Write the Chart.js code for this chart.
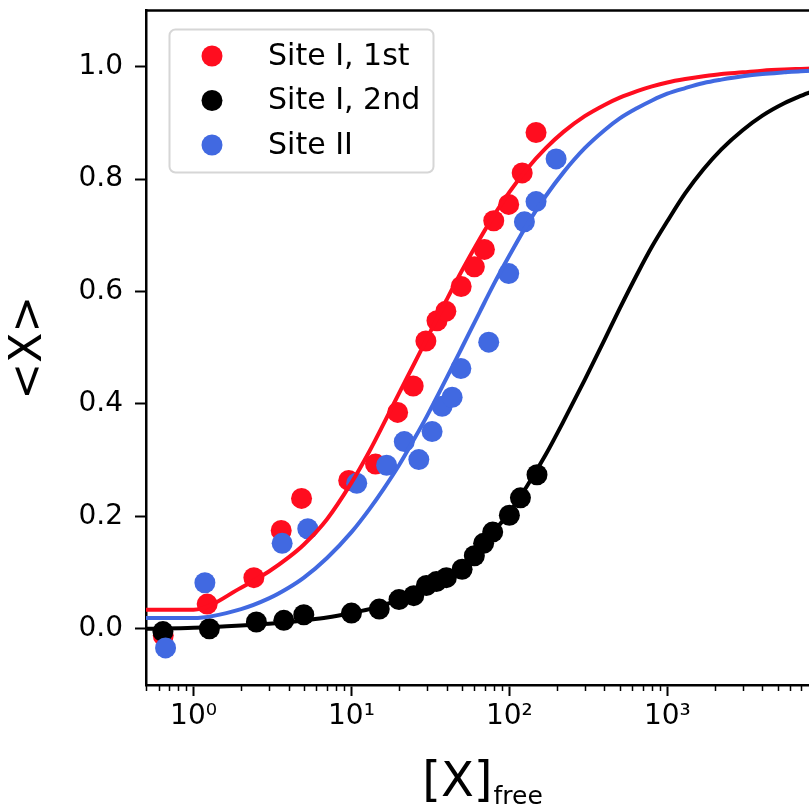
<!DOCTYPE html>
<html>
<head>
<meta charset="utf-8">
<script src="https://cdn.jsdelivr.net/npm/chart.js@4.4.1/dist/chart.umd.min.js"></script>
<style>
  html, body { margin: 0; padding: 0; background: #fff; overflow: hidden; }
</style>
</head>
<body>
<canvas id="bindingChart" width="830" height="810"></canvas>
<script>
// measured occupancy, site I first binding
const siteI1stX = [0.643, 1.22, 2.41, 3.59, 4.83, 9.61, 14.2, 19.6, 24.6, 29.6, 34.8, 39.6, 49.5, 60.0, 69.5, 79.6, 99, 120.5, 147.5];
const siteI1stY = [-0.012, 0.044, 0.091, 0.175, 0.232, 0.264, 0.293, 0.385, 0.432, 0.512, 0.548, 0.565, 0.609, 0.644, 0.675, 0.726, 0.755, 0.811, 0.883];

// site I second binding
const siteI2ndX = [0.64, 1.26, 2.50, 3.73, 4.99, 10.0, 15.0, 20.0, 24.8, 29.8, 34.5, 39.9, 50.2, 60.0, 68.7, 78.4, 100, 117.5, 149.6];
const siteI2ndY = [-0.005, 0.0, 0.012, 0.015, 0.025, 0.028, 0.035, 0.052, 0.059, 0.077, 0.084, 0.091, 0.106, 0.130, 0.152, 0.172, 0.202, 0.233, 0.274];

// site II
const siteIIX = [0.665, 1.18, 3.64, 5.29, 10.8, 16.7, 21.6, 26.7, 32.4, 37.5, 43.4, 49.3, 74.0, 99, 124.5, 147.5, 197.6];
const siteIIY = [-0.034, 0.082, 0.152, 0.178, 0.259, 0.291, 0.333, 0.301, 0.351, 0.396, 0.412, 0.463, 0.510, 0.632, 0.724, 0.760, 0.836];

// fitted curves
const fitX = [0.5, 1, 2, 3, 4, 5, 7, 10, 13, 16, 20, 25, 30, 40, 50, 65, 80, 100, 130, 170, 220, 300, 400, 500, 650, 800, 1000, 1300, 1700, 2200, 3000, 4000, 5500, 7000, 9000];
const fitI1st = [0.034, 0.034, 0.073, 0.102, 0.127, 0.150, 0.195, 0.260, 0.316, 0.365, 0.419, 0.472, 0.516, 0.585, 0.637, 0.694, 0.736, 0.777, 0.819, 0.855, 0.884, 0.912, 0.932, 0.945, 0.957, 0.965, 0.972, 0.978, 0.983, 0.987, 0.990, 0.993, 0.995, 0.996, 0.997];
const fitI2nd = [0.0, 0.002, 0.006, 0.009, 0.012, 0.015, 0.020, 0.028, 0.035, 0.042, 0.052, 0.063, 0.075, 0.095, 0.114, 0.145, 0.174, 0.207, 0.255, 0.310, 0.369, 0.443, 0.514, 0.570, 0.633, 0.680, 0.725, 0.775, 0.818, 0.853, 0.887, 0.913, 0.935, 0.948, 0.960];
const fitII = [0.019, 0.019, 0.035, 0.054, 0.073, 0.091, 0.126, 0.172, 0.213, 0.249, 0.291, 0.338, 0.378, 0.446, 0.500, 0.564, 0.614, 0.664, 0.720, 0.770, 0.812, 0.855, 0.887, 0.908, 0.927, 0.940, 0.952, 0.962, 0.971, 0.977, 0.983, 0.987, 0.990, 0.992, 0.993];

const xTickValues = [1, 10, 100, 1000];
const yTickValues = [0.0, 0.2, 0.4, 0.6, 0.8, 1.0];

const RED = '#ff0d1f';
const BLUE = '#4169e1';
const BLACK = '#000000';
const FONT = 'DejaVu Sans';

const toPoints = (xs, ys) => xs.map((x, i) => ({ x: x, y: ys[i] }));

const sups = { '0': '\u2070', '1': '\u00b9', '2': '\u00b2', '3': '\u00b3', '4': '\u2074' };

function scatterSet(label, xs, ys, color, order) {
  return {
    type: 'scatter',
    label: label,
    data: toPoints(xs, ys),
    backgroundColor: color,
    borderColor: color,
    borderWidth: 0,
    pointRadius: 10.5,
    pointHoverRadius: 10.5,
    order: order
  };
}

function fitSet(ys, color, order) {
  return {
    type: 'line',
    label: '',
    data: toPoints(fitX, ys),
    borderColor: color,
    borderWidth: 4,
    pointRadius: 0,
    fill: false,
    cubicInterpolationMode: 'monotone',
    order: order
  };
}

// minor ticks, top spine, axis titles and the legend box
const decorations = {
  id: 'decorations',
  afterDraw(chart) {
    const c = chart.ctx;
    const area = chart.chartArea;
    const xs = chart.scales.x;

    // top spine
    c.save();
    c.strokeStyle = '#000';
    c.lineWidth = 2.5;
    c.beginPath();
    c.moveTo(area.left - 1, area.top);
    c.lineTo(area.right, area.top);
    c.stroke();
    c.restore();

    // minor log ticks
    c.save();
    c.strokeStyle = '#000';
    c.lineWidth = 1.5;
    for (let d = -1; d <= 3; d++) {
      for (let m = 2; m <= 9; m++) {
        const v = m * Math.pow(10, d);
        if (v < xs.min || v > xs.max) continue;
        const px = Math.round(xs.getPixelForValue(v)) + 0.5;
        c.beginPath();
        c.moveTo(px, area.bottom);
        c.lineTo(px, area.bottom + 6);
        c.stroke();
      }
    }
    c.restore();

    // y title
    c.save();
    c.fillStyle = '#000';
    c.font = '44px "' + FONT + '"';
    c.textAlign = 'center';
    c.textBaseline = 'middle';
    c.translate(30, (area.top + area.bottom) / 2);
    c.rotate(-Math.PI / 2);
    c.fillText('<X>', 0, 0);
    c.restore();

    // x title with subscript
    c.save();
    c.fillStyle = '#000';
    c.textBaseline = 'alphabetic';
    c.textAlign = 'left';
    c.font = '48px "' + FONT + '"';
    const main = '[X]';
    const w1 = c.measureText(main).width;
    c.font = '25px "' + FONT + '"';
    const sub = 'free';
    const w2 = c.measureText(sub).width;
    const x0 = (area.left + area.right) / 2 - (w1 + w2) / 2;
    c.font = '48px "' + FONT + '"';
    c.fillText(main, x0, 796);
    c.font = '25px "' + FONT + '"';
    c.fillText(sub, x0 + w1 + 1, 804);
    c.restore();
  },
  afterDatasetsDraw(chart) {
    const c = chart.ctx;
    const entries = chart.data.datasets.filter(ds => ds.type === 'scatter' && ds.label);
    entries.sort((a, b) => b.order - a.order);
    c.save();
    // box
    const bx = 169.5, by = 29.5, bw = 264, bh = 143, r = 6;
    c.beginPath();
    c.moveTo(bx + r, by);
    c.arcTo(bx + bw, by, bx + bw, by + bh, r);
    c.arcTo(bx + bw, by + bh, bx, by + bh, r);
    c.arcTo(bx, by + bh, bx, by, r);
    c.arcTo(bx, by, bx + bw, by, r);
    c.closePath();
    c.fillStyle = 'rgba(255,255,255,0.8)';
    c.fill();
    c.strokeStyle = '#d6d6d6';
    c.lineWidth = 2;
    c.stroke();
    // entries
    c.font = '30px "' + FONT + '"';
    c.textBaseline = 'middle';
    c.textAlign = 'left';
    entries.forEach((ds, i) => {
      const cy = 56 + i * 44.5;
      c.beginPath();
      c.arc(212, cy, 10.5, 0, Math.PI * 2);
      c.fillStyle = ds.backgroundColor;
      c.fill();
      c.fillStyle = '#000';
      c.fillText(ds.label, 268, cy + 1);
    });
    c.restore();
  }
};

const ctx = document.getElementById('bindingChart').getContext('2d');

new Chart(ctx, {
  data: {
    datasets: [
      fitSet(fitII, BLUE, 0),
      fitSet(fitI2nd, BLACK, 1),
      fitSet(fitI1st, RED, 2),
      scatterSet('Site II', siteIIX, siteIIY, BLUE, 3),
      scatterSet('Site I, 2nd', siteI2ndX, siteI2ndY, BLACK, 4),
      scatterSet('Site I, 1st', siteI1stX, siteI1stY, RED, 5)
    ]
  },
  options: {
    responsive: false,
    animation: false,
    devicePixelRatio: 1,
    layout: { padding: { left: 0, right: 12, top: 6, bottom: 0 } },
    plugins: {
      legend: { display: false },
      tooltip: { enabled: false }
    },
    scales: {
      x: {
        type: 'logarithmic',
        min: 0.5,
        max: 9000,
        afterFit(scale) {
          scale.height = 125;
          scale.paddingLeft = 0;
          scale.paddingRight = 0;
        },
        afterBuildTicks(scale) { scale.ticks = xTickValues.map(v => ({ value: v, major: true })); },
        ticks: {
          autoSkip: false,
          maxRotation: 0,
          padding: 4,
          color: '#000',
          font: { family: FONT, size: 28 },
          callback: (v) => '10' + sups[String(Math.round(Math.log10(v)))]
        },
        grid: { drawOnChartArea: false, tickLength: 11, tickWidth: 2, tickColor: '#000' },
        border: { color: '#000', width: 2.5 }
      },
      y: {
        type: 'linear',
        min: -0.1,
        max: 1.1,
        afterFit(scale) {
          scale.width = 146;
          scale.paddingTop = 0;
          scale.paddingBottom = 0;
        },
        afterBuildTicks(scale) { scale.ticks = yTickValues.map(v => ({ value: v })); },
        ticks: {
          padding: 12,
          color: '#000',
          font: { family: FONT, size: 28 },
          callback: (v) => Number(v).toFixed(1)
        },
        grid: { drawOnChartArea: false, tickLength: 11, tickWidth: 2, tickColor: '#000' },
        border: { color: '#000', width: 2.5 }
      }
    }
  },
  plugins: [decorations]
});
</script>
</body>
</html>
